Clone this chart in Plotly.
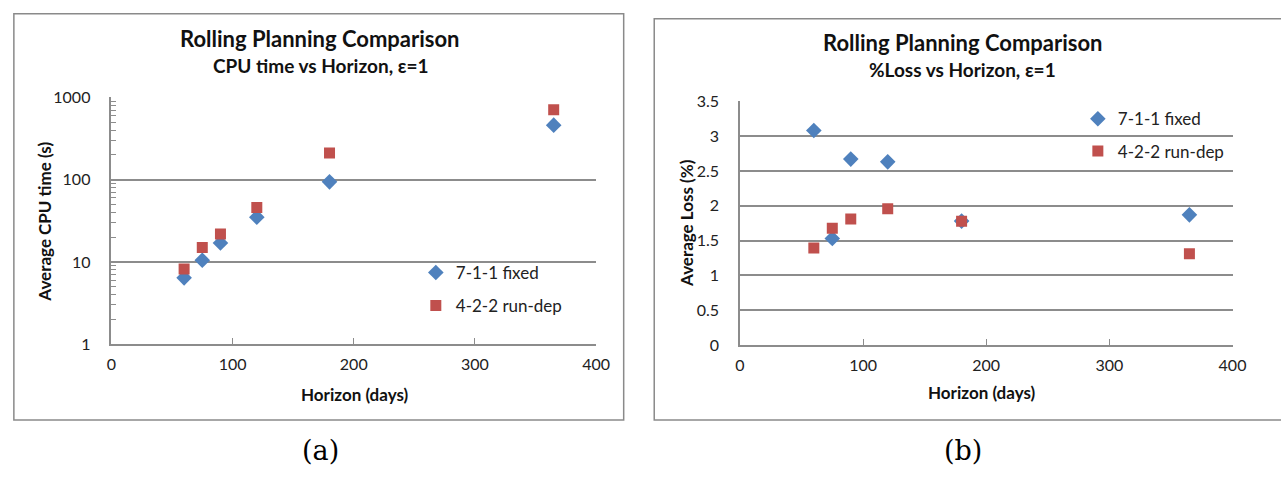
import plotly.graph_objects as go

# ---- data ----
horizon = [60, 75, 90, 120, 180, 365]
cpu_fixed = [6.4, 10.5, 17, 35, 94, 460]
cpu_rundep = [8.2, 15, 21.8, 46, 211, 708]
loss_fixed = [3.08, 1.53, 2.67, 2.63, 1.78, 1.87]
loss_rundep = [1.395, 1.676, 1.81, 1.956, 1.777, 1.313]
series_names = ["7-1-1 fixed", "4-2-2 run-dep"]
log_ticks = [1, 10, 100, 1000]
log_ticktext = ["1", "10", "100", "1000"]
loss_ticks = [0, 0.5, 1, 1.5, 2, 2.5, 3, 3.5]
loss_ticktext = ["0", "0.5", "1", "1.5", "2", "2.5", "3", "3.5"]
x_ticks = [0, 100, 200, 300, 400]

W, H = 1281, 479
BLUE = "#4F81BD"
RED = "#C0504D"
GRID = "#8C8C8C"
FONT = "Lato"

def px(x):
    return x / W

def py(y):
    return 1 - y / H

fig = go.Figure()

fig.add_trace(go.Scatter(x=horizon, y=cpu_fixed, mode="markers", name=series_names[0],
                         marker=dict(symbol="diamond", size=12, color=BLUE),
                         xaxis="x", yaxis="y", legend="legend", legendgroup="a1"))
fig.add_trace(go.Scatter(x=horizon, y=cpu_rundep, mode="markers", name=series_names[1],
                         marker=dict(symbol="square", size=11, color=RED),
                         xaxis="x", yaxis="y", legend="legend", legendgroup="a2"))
fig.add_trace(go.Scatter(x=horizon, y=loss_fixed, mode="markers", name=series_names[0],
                         marker=dict(symbol="diamond", size=12, color=BLUE),
                         xaxis="x2", yaxis="y2", legend="legend2", legendgroup="b1"))
fig.add_trace(go.Scatter(x=horizon, y=loss_rundep, mode="markers", name=series_names[1],
                         marker=dict(symbol="square", size=11, color=RED),
                         xaxis="x2", yaxis="y2", legend="legend2", legendgroup="b2"))

tickfont = dict(family=FONT, size=16, color="#222222")

common_x = dict(range=[0, 400], tickvals=x_ticks, showgrid=False, zeroline=False,
                showline=True, linecolor=GRID, linewidth=1.5, ticks="inside",
                ticklen=6, tickcolor=GRID, tickfont=tickfont, ticklabelstandoff=5)

legfont = dict(family=FONT, size=17, color="#222222")

fig.update_layout(
    width=W, height=H,
    margin=dict(l=0, r=0, t=0, b=0),
    paper_bgcolor="white", plot_bgcolor="white",
    showlegend=True,
    xaxis=dict(domain=[px(108), px(600)], anchor="y", **common_x),
    yaxis=dict(domain=[py(348), py(91)], anchor="x", type="log", range=[0, 3],
               tickvals=log_ticks, ticktext=log_ticktext, showgrid=True,
               gridcolor=GRID, gridwidth=1.5, zeroline=False, showline=True,
               linecolor=GRID, linewidth=1.5, ticks="", tickfont=tickfont,
               ticklabelstandoff=16,
               minor=dict(tickvals=[m * d for d in (1, 10, 100) for m in range(2, 10)],
                          ticks="inside", ticklen=5, tickcolor=GRID, showgrid=False)),
    xaxis2=dict(domain=[px(746), px(1246)], anchor="y2", **common_x),
    yaxis2=dict(domain=[py(349), py(95)], anchor="x2", range=[0, 3.5],
                tickvals=loss_ticks, ticktext=loss_ticktext, showgrid=True,
                gridcolor=GRID, gridwidth=1.5, zeroline=False, showline=True,
                linecolor=GRID, linewidth=1.5, ticks="", tickfont=tickfont,
                ticklabelstandoff=16),
    legend=dict(x=px(417), y=py(255), xanchor="left", yanchor="top",
                font=legfont, bgcolor="rgba(0,0,0,0)", tracegroupgap=8,
                itemsizing="trace"),
    legend2=dict(x=px(1089), y=py(95), xanchor="left", yanchor="top",
                 font=legfont, bgcolor="rgba(0,0,0,0)", tracegroupgap=7,
                 itemsizing="trace"),
)

fig.add_shape(type="rect", xref="paper", yref="paper", x0=px(9), x1=px(628), y0=py(427), y1=py(4),
              line=dict(color="#8A8A8A", width=1.5), fillcolor="rgba(0,0,0,0)", layer="below")
fig.add_shape(type="rect", xref="paper", yref="paper", x0=px(659), x1=px(1300), y0=py(427), y1=py(9),
              line=dict(color="#8A8A8A", width=1.5), fillcolor="rgba(0,0,0,0)", layer="below")

def ann(text, x, y, size, bold=True, angle=0, family=FONT, color="#111111"):
    fig.add_annotation(text=f"<b>{text}</b>" if bold else text, xref="paper", yref="paper",
                       x=px(x), y=py(y), xanchor="center", yanchor="middle",
                       showarrow=False, textangle=angle,
                       font=dict(family=family, size=size, color=color))

ann("Rolling Planning Comparison", 320, 30, 22)
ann("CPU time vs Horizon, ε=1", 320, 58, 19)
ann("Rolling Planning Comparison", 972, 34, 22)
ann("%Loss vs Horizon, ε=1", 972, 62, 19)
ann("Horizon (days)", 355, 400, 17)
ann("Horizon (days)", 992, 398, 17)
ann("Average CPU time (s)", 40, 220, 17, angle=-90)
ann("Average Loss (%)", 691, 222, 17, angle=-90)
ann("(a)", 320, 459, 27, bold=False, family="DejaVu Serif", color="#000000")
ann("(b)", 972, 459, 27, bold=False, family="DejaVu Serif", color="#000000")

fig.write_html("out.html")
